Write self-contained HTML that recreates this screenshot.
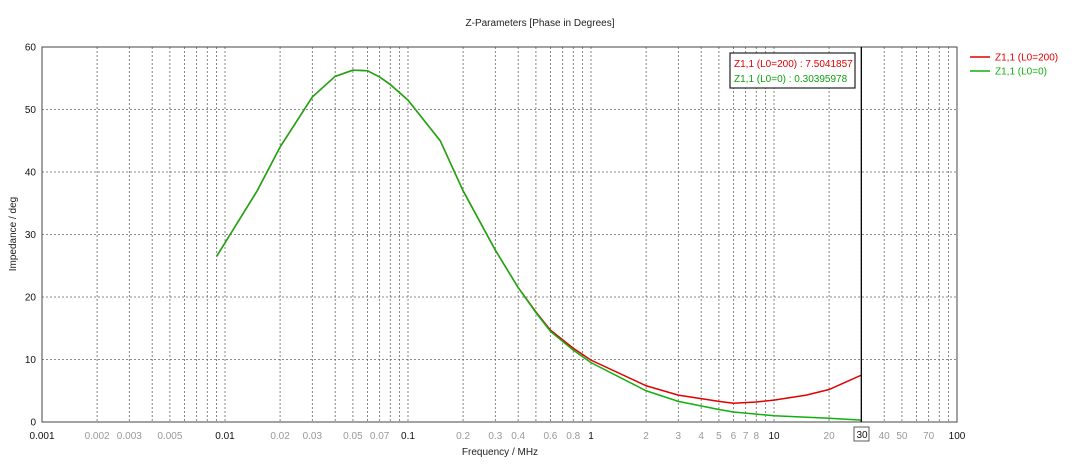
<!DOCTYPE html>
<html><head><meta charset="utf-8"><style>
body{margin:0;background:#fff;font-family:"Liberation Sans",sans-serif}
svg text{font-family:"Liberation Sans",sans-serif}
</style></head><body>
<svg id="c" width="1080" height="463" xmlns="http://www.w3.org/2000/svg"></svg>
<script>
const freqG=[0.009,0.015,0.02,0.03,0.04,0.05,0.06,0.07,0.08,0.1,0.15,0.2,0.3,0.4,0.5,0.6,0.8,1,2,3,5,6,10,20,30];
const phaseG=[26.5,37,44,52,55.3,56.3,56.2,55.2,54,51.5,45,37,27.5,21.5,17.5,14.5,11.5,9.5,5,3.3,2,1.6,1,0.6,0.3];
const freqR=[0.009,0.015,0.02,0.03,0.04,0.05,0.06,0.07,0.08,0.1,0.15,0.2,0.3,0.4,0.5,0.6,0.8,1,2,3,5,6,8,10,15,20,30];
const phaseR=[26.5,37,44,52,55.3,56.3,56.2,55.2,54,51.5,45,37,27.5,21.5,17.6,14.7,11.8,9.9,5.8,4.3,3.3,3.0,3.2,3.5,4.3,5.2,7.5];
const yTicks=[0,10,20,30,40,50,60];
const decades=[0.001,0.01,0.1,1,10,100];
const minorLabels=[[2,3,5],[2,3,5,7],[2,3,4,6,8],[2,3,4,5,6,7,8],[20,30,40,50,70]];
const L=42,R=957,T=47,B=422;
const X=f=>L+(Math.log10(f)+3)*(R-L)/5;
const Y=v=>B-v*(B-T)/60;
const s=document.getElementById('c');const NS='http://www.w3.org/2000/svg';
function el(t,a,p){const e=document.createElementNS(NS,t);for(const k in a)e.setAttribute(k,a[k]);(p||s).appendChild(e);return e;}
function tx(x,y,str,a){const e=el('text',Object.assign({x:x,y:y,'font-size':10},a));e.textContent=str;return e;}
let t=tx(540,26,'Z-Parameters [Phase in Degrees]',{'text-anchor':'middle',fill:'#222'});


for(let d=0;d<5;d++){const base=decades[d];for(let m=2;m<=9;m++){const x=X(base*m);
const g=el('line',{x1:x,x2:x,y1:T,y2:B,stroke:'#666','stroke-dasharray':'2,2','stroke-width':0.8});

}
const xb=X(base);if(d>0){const g=el('line',{x1:xb,x2:xb,y1:T,y2:B,stroke:'#666','stroke-dasharray':'2,2','stroke-width':0.8});

}
minorLabels[d].forEach(v=>{const f=v>=10?v:base*v;const lab=tx(X(f),439,String(+f.toPrecision(3)),{'text-anchor':'middle',fill:'#999','font-size':10});

});}
decades.forEach(f=>{const lab=tx(X(f),439,String(f),{'text-anchor':'middle',fill:'#111','font-size':10});

});
yTicks.forEach(v=>{if(v>0&&v<60){const g=el('line',{x1:L,x2:R,y1:Y(v),y2:Y(v),stroke:'#666','stroke-dasharray':'2,2','stroke-width':0.8});

}
const lab=tx(36,Y(v)+3.5,String(v),{'text-anchor':'end',fill:'#111','font-size':10});

});
const fr=el('rect',{x:L,y:T,width:R-L,height:B-T,fill:'none',stroke:'#444','stroke-width':1});


t=tx(500,455,'Frequency / MHz',{'text-anchor':'middle',fill:'#222','font-size':10});


t=tx(16,234,'Impedance / deg',{'text-anchor':'middle',fill:'#222','font-size':10,transform:'rotate(-90 16 234)'});


function line(fs,vs,c,n){const p=el('polyline',{points:fs.map((f,i)=>X(f)+','+Y(vs[i])).join(' '),fill:'none',stroke:c,'stroke-width':1.5});

}
line(freqR,phaseR,'#e00000','series-l0-200');
line(freqG,phaseG,'#10b010','series-l0-0');
const cx=X(30);
const cl=el('line',{x1:cx,x2:cx,y1:T,y2:B,stroke:'#000','stroke-width':1.3});


const cb=el('rect',{x:730,y:53,width:125,height:35,fill:'#fff',stroke:'#222','stroke-width':1.2});


t=tx(734,67,'Z1,1 (L0=200) : 7.5041857',{fill:'#e00000','font-size':10});


t=tx(734,82,'Z1,1 (L0=0) : 0.30395978',{fill:'#10a010','font-size':10});


const lb=el('rect',{x:854,y:427,width:15,height:14,fill:'#fff',stroke:'#333','stroke-width':0.8});


t=tx(862,438,'30',{'text-anchor':'middle',fill:'#111','font-size':10});


[['#e00000','Z1,1 (L0=200)',57,'legend-entry-l0-200'],['#10b010','Z1,1 (L0=0)',71,'legend-entry-l0-0']].forEach(a=>{
const g=el('g',{});


el('line',{x1:970,x2:990,y1:a[2],y2:a[2],stroke:a[0],'stroke-width':1.5},g);
const q=el('text',{x:995,y:a[2]+3.5,'font-size':10,fill:a[0]},g);q.textContent=a[1];});
</script>
</body></html>
